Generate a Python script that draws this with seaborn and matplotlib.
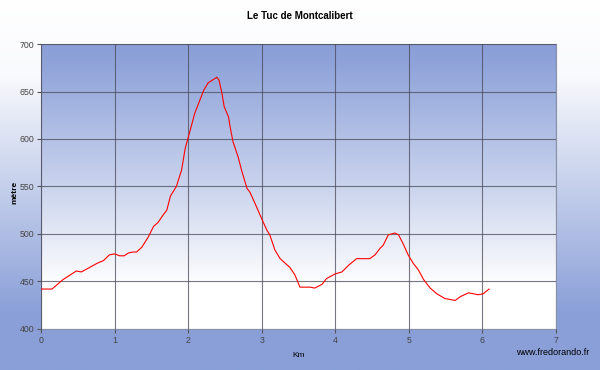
import numpy as np
import pandas as pd
import seaborn as sns
import matplotlib.pyplot as plt

plt.rcParams['font.family'] = ['Liberation Sans', 'DejaVu Sans']

# profil altimetrique
km = [0.0, 0.15, 0.30, 0.48, 0.55, 0.62, 0.76, 0.85, 0.93, 1.0, 1.07, 1.13, 1.19, 1.25,
      1.30, 1.37, 1.46, 1.53, 1.59, 1.66, 1.71, 1.76, 1.84, 1.91, 1.96, 2.02, 2.09, 2.21,
      2.27, 2.33, 2.39, 2.42, 2.46, 2.49, 2.55, 2.57, 2.61, 2.68, 2.73, 2.80, 2.84, 2.91,
      3.0, 3.07, 3.11, 3.18, 3.25, 3.38, 3.45, 3.52, 3.59, 3.66, 3.72, 3.77, 3.82, 3.88,
      4.0, 4.09, 4.18, 4.29, 4.47, 4.54, 4.61, 4.65, 4.72, 4.81, 4.86, 4.92, 4.99, 5.06,
      5.13, 5.20, 5.29, 5.38, 5.49, 5.63, 5.70, 5.81, 5.88, 5.94, 6.01, 6.09]
metre = [442, 442, 452, 461, 460, 463, 469, 472, 478, 479, 477, 477, 480, 481,
         481, 486, 497, 508, 512, 520, 525, 540, 550, 567, 590, 607, 627, 651,
         659, 662, 665, 662, 648, 634, 623, 613, 597, 581, 566, 548, 544, 532,
         516, 504, 499, 483, 474, 465, 457, 444, 444, 444, 443, 445, 447, 453,
         458, 460, 467, 474, 474, 478, 485, 488, 499, 501, 499, 490, 478, 469,
         462, 452, 443, 437, 432, 430, 434, 438, 437, 436, 437, 442]

df = pd.DataFrame({'Km': km, 'metre': metre})

blue = np.array([0x8A, 0x9F, 0xD8]) / 255
white = np.array([1.0, 1.0, 1.0])

fig = plt.figure(figsize=(6, 3.7), dpi=100)

# fond degrade de la figure (blanc en haut, bleu en bas)
t = np.linspace(0, 1, 256)
w = np.interp(t, [0, 0.2, 0.85, 1], [1, 0.95, 0, 0])
grad_fig = w[:, None] * white + (1 - w[:, None]) * blue
bg = fig.add_axes([0, 0, 1, 1], zorder=-10)
bg.imshow(grad_fig[:, None, :], aspect='auto', extent=[0, 1, 0, 1])
bg.axis('off')

ax = fig.add_axes([0.0683, 0.111, 0.8584, 0.770])

# fond degrade de la zone de trace (bleu en haut, blanc en bas)
w2 = np.interp(t, [0, 0.05, 0.5, 0.85, 1], [0, 0.03, 0.55, 1, 1])
grad_ax = w2[:, None] * white + (1 - w2[:, None]) * blue
ax.imshow(grad_ax[:, None, :], aspect='auto', extent=[0, 7, 400, 700], zorder=0)

sns.lineplot(data=df, x='Km', y='metre', color='#FF0000', linewidth=0.8, ax=ax, zorder=3)

ax.set_xlim(0, 7)
ax.set_ylim(400, 700)
ax.set_xticks(range(0, 8))
ax.set_yticks(range(400, 701, 50))
ax.grid(True, color='#4A4A5A', linewidth=0.8, alpha=0.75, zorder=1)
ax.set_axisbelow(False)
for s in ax.spines.values():
    s.set_color('#8890A8')
    s.set_linewidth(0.8)
ax.tick_params(labelsize=6.3, labelcolor='#444444', color='#555555', length=3, pad=2)
ax.set_xlabel('')
ax.set_ylabel('')

fig.text(0.497, 0.04, 'Km', ha='center', va='center', fontsize=6)
fig.text(0.025, 0.48, 'mètre', ha='center', va='center', fontsize=6,
         fontweight='bold', rotation=90)
fig.text(0.5, 0.957, 'Le Tuc de Montcalibert', ha='center', va='center',
         fontsize=7, fontweight='bold')
fig.text(0.982, 0.048, 'www.fredorando.fr', ha='right', va='center', fontsize=6.5)

fig.savefig('out.png', dpi=100)
